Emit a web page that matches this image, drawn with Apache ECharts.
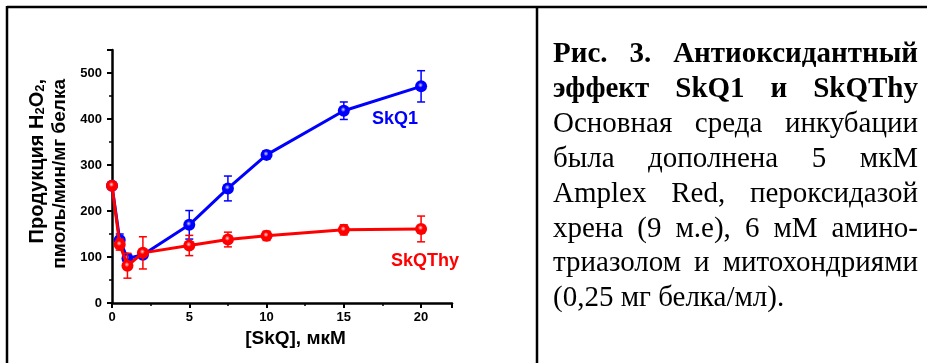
<!DOCTYPE html>
<html>
<head>
<meta charset="utf-8">
<script src="https://cdn.jsdelivr.net/npm/echarts@6/dist/echarts.min.js"></script>
<style>
html,body{margin:0;padding:0;background:#fff;}
#chart{width:927px;height:363px;}
</style>
</head>
<body>
<div id="chart"></div>
<script>
// ---- data ----
const xValues = [0, 0.5, 1, 2, 5, 7.5, 10, 15, 20];
const skq1Values = [255, 137, 97, 105, 170, 249, 322, 418, 471];
const skq1Errors = [0, 13, 10, 6, 31, 27, 9, 19, 34];
const skqThyValues = [255, 127, 81, 109, 125, 138, 146, 159, 161];
const skqThyErrors = [0, 12, 27, 35, 22, 16, 10, 11, 28];
const seriesNames = ['SkQ1', 'SkQThy'];
const xAxisTitle = '[SkQ], мкМ';
const yAxisTitleLine1 = 'Продукция H{sub|2}O{sub|2},';
const yAxisTitleLine2 = 'пмоль/мин/мг белка';
const captionBold = ['Рис. 3. Антиоксидантный', 'эффект SkQ1 и SkQThy'];
const captionNormal = ['Основная среда инкубации', 'была дополнена 5 мкМ', 'Amplex Red, пероксидазой', 'хрена (9 м.е), 6 мМ амино-', 'триазолом и митохондриями', '(0,25 мг белка/мл).'];

const BLUE = '#0000ff', RED = '#ff0000';
const sans = '"Liberation Sans", Arial, sans-serif';
const serif = '"Liberation Serif", "Times New Roman", serif';

function sphere(dark, light) {
  return new echarts.graphic.RadialGradient(0.45, 0.4, 0.6, [
    {offset: 0, color: light}, {offset: 0.35, color: dark}, {offset: 1, color: dark}
  ]);
}

function pairs(vals) { return xValues.map((x, i) => [x, vals[i]]); }
function errData(vals, errs) { return xValues.map((x, i) => [x, vals[i], errs[i]]); }

function errorRender(color) {
  return function (params, api) {
    const x = api.value(0), m = api.value(1), e = api.value(2);
    if (!e) return null;
    const top = api.coord([x, m + e]);
    const bot = api.coord([x, m - e]);
    const w = 4;
    const st = {stroke: color, lineWidth: 1.5};
    return {type: 'group', children: [
      {type: 'line', shape: {x1: top[0], y1: top[1], x2: bot[0], y2: bot[1]}, style: st},
      {type: 'line', shape: {x1: top[0] - w, y1: top[1], x2: top[0] + w, y2: top[1]}, style: st},
      {type: 'line', shape: {x1: bot[0] - w, y1: bot[1], x2: bot[0] + w, y2: bot[1]}, style: st}
    ]};
  };
}

// ---- caption (justified) ----
const ctx = document.createElement('canvas').getContext('2d');
const capLeft = 553, capRight = 918, capFont = 29, capFirstMiddle = 55, capStep = 34.8;
const captionLines = captionBold.map(t => ({t, bold: true})).concat(captionNormal.map(t => ({t, bold: false})));
const captionEls = [];
captionLines.forEach((ln, li) => {
  const weight = ln.bold ? 'bold ' : '';
  ctx.font = weight + capFont + 'px ' + serif;
  const words = ln.t.split(' ');
  const widths = words.map(w => ctx.measureText(w).width);
  const last = li === captionLines.length - 1;
  let gap = ctx.measureText(' ').width;
  if (!last && words.length > 1) {
    const total = widths.reduce((a, b) => a + b, 0);
    gap = (capRight - capLeft - total) / (words.length - 1);
  }
  let x = capLeft;
  const y = capFirstMiddle + li * capStep;
  words.forEach((w, wi) => {
    captionEls.push({type: 'text', x: x, y: y, silent: true,
      style: {text: w, font: weight + capFont + 'px ' + serif, fill: '#000', align: 'left', verticalAlign: 'middle'}});
    x += widths[wi] + gap;
  });
});

const chart = echarts.init(document.getElementById('chart'), null, {renderer: 'canvas'});
const option = {
  backgroundColor: '#fff',
  animation: false,
  grid: {left: 112, right: 475, top: 50, bottom: 60, containLabel: false},
  xAxis: {
    type: 'value', min: 0, max: 22, interval: 5,
    name: xAxisTitle, nameLocation: 'middle', nameGap: 26,
    nameTextStyle: {fontFamily: sans, fontWeight: 'bold', fontSize: 19, color: '#000', padding: [0, 0, 0, 27]},
    axisLine: {lineStyle: {color: '#000', width: 2.5}},
    axisTick: {show: true, inside: false, length: 5, lineStyle: {color: '#000', width: 2}},
    minorTick: {show: true, splitNumber: 2, length: 3, lineStyle: {color: '#000', width: 1.5}},
    axisLabel: {fontFamily: sans, fontWeight: 'bold', fontSize: 13, color: '#000', margin: 8,
      formatter: v => (v > 20 ? '' : String(v))},
    splitLine: {show: false}
  },
  yAxis: {
    type: 'value', min: 0, max: 550, interval: 100,
    axisLine: {show: true, lineStyle: {color: '#000', width: 2.5}},
    axisTick: {show: true, inside: false, length: 5, lineStyle: {color: '#000', width: 2}},
    minorTick: {show: true, splitNumber: 2, length: 3, lineStyle: {color: '#000', width: 1.5}},
    axisLabel: {fontFamily: sans, fontWeight: 'bold', fontSize: 13, color: '#000', margin: 10,
      formatter: v => (v > 500 ? '' : String(v))},
    splitLine: {show: false}
  },
  series: [
    {name: seriesNames[0], type: 'line', data: pairs(skq1Values), z: 3,
      symbol: 'circle', symbolSize: 12, showAllSymbol: true,
      lineStyle: {color: BLUE, width: 3}, itemStyle: {color: sphere(BLUE, '#d8d8ff'), borderWidth: 0}},
    {name: seriesNames[0] + ' err', type: 'custom', data: errData(skq1Values, skq1Errors), z: 3,
      renderItem: errorRender(BLUE), encode: {x: 0, y: 1}},
    {name: seriesNames[1], type: 'line', data: pairs(skqThyValues), z: 5,
      symbol: 'circle', symbolSize: 12, showAllSymbol: true,
      lineStyle: {color: RED, width: 3}, itemStyle: {color: sphere(RED, '#ffd8d8'), borderWidth: 0}},
    {name: seriesNames[1] + ' err', type: 'custom', data: errData(skqThyValues, skqThyErrors), z: 5,
      renderItem: errorRender(RED), encode: {x: 0, y: 1}}
  ],
  graphic: [
    // table borders
    {type: 'line', shape: {x1: 7, y1: 7, x2: 927, y2: 7}, style: {stroke: '#000', lineWidth: 2.5}, silent: true},
    {type: 'line', shape: {x1: 7, y1: 6, x2: 7, y2: 363}, style: {stroke: '#000', lineWidth: 2.5}, silent: true},
    {type: 'line', shape: {x1: 537, y1: 6, x2: 537, y2: 363}, style: {stroke: '#000', lineWidth: 2.5}, silent: true},
    // y axis title (two lines, rotated)
    {type: 'text', x: 37, y: 79, rotation: Math.PI / 2, silent: true,
      style: {text: yAxisTitleLine1, font: 'bold 20px ' + sans, fill: '#000', align: 'right', verticalAlign: 'middle',
        rich: {sub: {font: 'bold 13px ' + sans, fill: '#000', verticalAlign: 'bottom', lineHeight: 8}}}},
    {type: 'text', x: 60, y: 79, rotation: Math.PI / 2, silent: true,
      style: {text: yAxisTitleLine2, font: 'bold 19px ' + sans, fill: '#000', align: 'right', verticalAlign: 'middle'}},
    // series labels
    {type: 'text', x: 372, y: 119, silent: true,
      style: {text: seriesNames[0], font: 'bold 18px ' + sans, fill: BLUE, align: 'left', verticalAlign: 'middle'}},
    {type: 'text', x: 391, y: 261, silent: true,
      style: {text: seriesNames[1], font: 'bold 18px ' + sans, fill: RED, align: 'left', verticalAlign: 'middle'}}
  ].concat(captionEls)
};
chart.setOption(option);
</script>
</body>
</html>
